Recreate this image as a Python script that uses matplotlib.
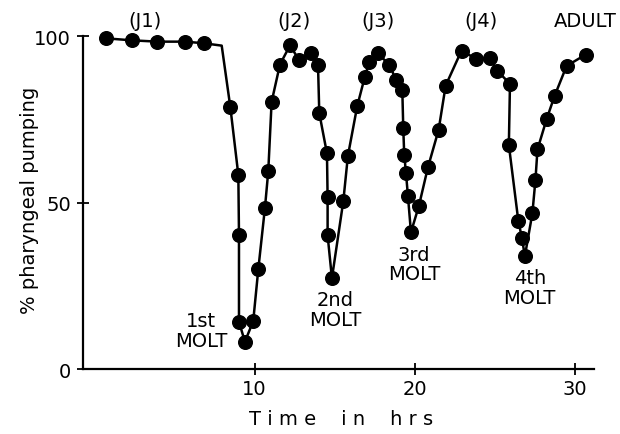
import matplotlib
matplotlib.use("Agg")
import matplotlib.pyplot as plt

# pharyngeal pumping (% of animals pumping) against time after hatching
hours = [0.69, 2.31, 3.91, 5.66, 6.85, 7.94,
         8.48, 8.98, 9.02, 9.02, 9.39, 9.91, 10.23, 10.64, 10.85, 11.06,
         11.58, 12.21, 12.77, 13.50, 13.96,
         14.04, 14.52, 14.56, 14.56, 14.83, 15.54, 15.83,
         16.41, 16.89, 17.16, 17.69, 18.41, 18.83, 19.23,
         19.29, 19.35, 19.46, 19.58, 19.77, 20.27, 20.83, 21.50, 21.94,
         22.93, 23.85, 24.69, 25.16, 25.96,
         25.89, 26.48, 26.71, 26.89, 27.36, 27.55, 27.68,
         28.25, 28.75, 29.50, 30.69]
pumping = [99.4, 98.8, 98.4, 98.4, 97.9, 97.2,
           78.7, 58.3, 40.4, 14.2, 8.2, 14.4, 30.1, 48.3, 59.4, 80.3,
           91.5, 97.3, 92.9, 95.0, 91.4,
           76.9, 64.8, 51.6, 40.2, 27.3, 50.4, 64.1,
           79.0, 87.9, 92.2, 94.9, 91.5, 87.0, 83.8,
           72.3, 64.4, 58.9, 52.1, 41.1, 49.1, 60.6, 71.9, 85.2,
           95.7, 93.2, 93.4, 89.7, 85.7,
           67.3, 44.6, 39.3, 33.9, 46.8, 56.7, 66.0,
           75.1, 82.1, 91.1, 94.5]
# the J1 trace rounds off before the drop: a line vertex with no sample
corner = 5

stages = ["(J1)", "(J2)", "(J3)", "(J4)", "ADULT"]
stage_x = [3.16, 12.46, 17.68, 24.14, 30.64]
molts = ["1st\nMOLT", "2nd\nMOLT", "3rd\nMOLT", "4th\nMOLT"]
molt_x = [6.64, 15.02, 19.96, 27.2]
molt_y = [11.6, 18.0, 31.6, 24.6]

plt.rcParams["font.family"] = ["DejaVu Sans"]
plt.rcParams["font.size"] = 14

fig = plt.figure(figsize=(6.2, 4.35), dpi=100)
ax = fig.add_axes([0.1344, 0.1494, 0.8236, 0.7648])

ax.plot(hours, pumping, color="black", linewidth=1.8, clip_on=False, zorder=2)
sampled = [i for i in range(len(hours)) if i != corner]
ax.plot([hours[i] for i in sampled], [pumping[i] for i in sampled],
        linestyle="none", marker="o", markersize=9.8, color="black",
        clip_on=False, zorder=3)

for label, x in zip(stages, stage_x):
    ax.text(x, 104.9, label, ha="center", va="center", fontsize=14,
            clip_on=False)
for label, x, y in zip(molts, molt_x, molt_y):
    ax.text(x, y, label, ha="center", va="center", fontsize=14,
            linespacing=1.05)

ax.set_xlim(-0.71, 31.21)
ax.set_ylim(0, 100)
ax.set_xticks([10, 20, 30])
ax.set_yticks([0, 50, 100])
for side in ("top", "right"):
    ax.spines[side].set_visible(False)
ax.spines["left"].set_bounds(0, 100)
for side in ("left", "bottom"):
    ax.spines[side].set_linewidth(1.6)
ax.tick_params(direction="inout", length=8, width=1.3, labelsize=14)
ax.tick_params(axis="y", pad=5)
ax.tick_params(axis="x", pad=3)

fig.text(341 / 620, 1 - 420 / 435, "T i m e    i n    h r s",
         ha="center", va="center", fontsize=14)
fig.text(30 / 620, 1 - 200 / 435, "% pharyngeal pumping",
         ha="center", va="center", rotation=90, fontsize=14)

fig.savefig("out.png", dpi=100)
